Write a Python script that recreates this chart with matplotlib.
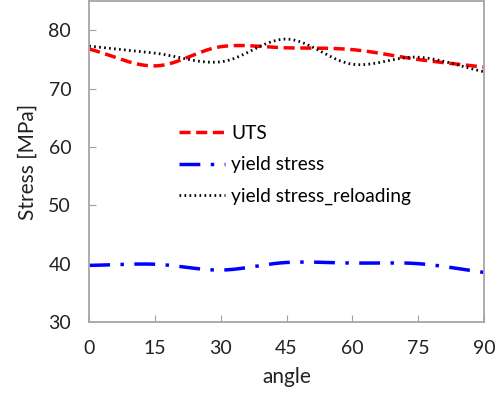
import numpy as np
import matplotlib
matplotlib.use("Agg")
import matplotlib.pyplot as plt

plt.rcParams['font.family'] = ['Lato', 'DejaVu Sans']

angles = [0, 15, 30, 45, 60, 75, 90]
uts = [76.8, 73.9, 77.2, 77.0, 76.7, 75.0, 73.7]
yield_stress = [39.7, 39.9, 38.9, 40.2, 40.1, 40.0, 38.5]
yield_reloading = [77.3, 76.1, 74.6, 78.5, 74.2, 75.4, 72.9]
x_ticks = [0, 15, 30, 45, 60, 75, 90]
y_ticks = [30, 40, 50, 60, 70, 80]


def smooth(x, y, n=30):
    """Catmull-Rom spline through the points (spreadsheet-style smoothed line)."""
    x = np.asarray(x, float)
    y = np.asarray(y, float)
    px = np.concatenate([[2 * x[0] - x[1]], x, [2 * x[-1] - x[-2]]])
    py = np.concatenate([[2 * y[0] - y[1]], y, [2 * y[-1] - y[-2]]])
    xs, ys = [], []
    t = np.linspace(0, 1, n, endpoint=False)
    for i in range(1, len(px) - 2):
        for arr, out in ((px, xs), (py, ys)):
            p0, p1, p2, p3 = arr[i - 1], arr[i], arr[i + 1], arr[i + 2]
            out.extend(0.5 * ((2 * p1) + (-p0 + p2) * t
                              + (2 * p0 - 5 * p1 + 4 * p2 - p3) * t ** 2
                              + (-p0 + 3 * p1 - 3 * p2 + p3) * t ** 3))
    xs.append(x[-1])
    ys.append(y[-1])
    return np.array(xs), np.array(ys)


fig = plt.figure(figsize=(5.04, 3.97), dpi=100)
ax = fig.add_axes([0.177, 0.189, 0.783, 0.808])

sx, sy = smooth(angles, uts)
ax.plot(sx, sy, color='#ff0000', lw=2.5, dashes=(3.2, 1.6), label='UTS')
sx, sy = smooth(angles, yield_stress)
ax.plot(sx, sy, color='#0000ff', lw=2.5, dashes=(6, 3, 1, 3), label='yield stress')
sx, sy = smooth(angles, yield_reloading)
ax.plot(sx, sy, color='black', lw=2, dashes=(0.6, 1.2), label='yield stress_reloading')

ax.set_xlim(0, 90)
ax.set_ylim(30, 85)
ax.set_xticks(x_ticks)
ax.set_yticks(y_ticks)
ax.tick_params(direction='in', length=5, color='#a0a0a0', labelsize=14,
               pad=13, labelcolor='#222222')
for s in ax.spines.values():
    s.set_color('#a6a6a6')
    s.set_linewidth(1.3)

ax.set_xlabel('angle', fontsize=15, color='#222222', labelpad=7)
ax.set_ylabel('Stress [MPa]', fontsize=15, color='#222222', labelpad=8)

ax.legend(loc='upper left', bbox_to_anchor=(0.183, 0.668), frameon=False,
          fontsize=13.8, handlelength=2.4, labelspacing=0.75, handletextpad=0.35)

fig.savefig('out.png', dpi=100)
